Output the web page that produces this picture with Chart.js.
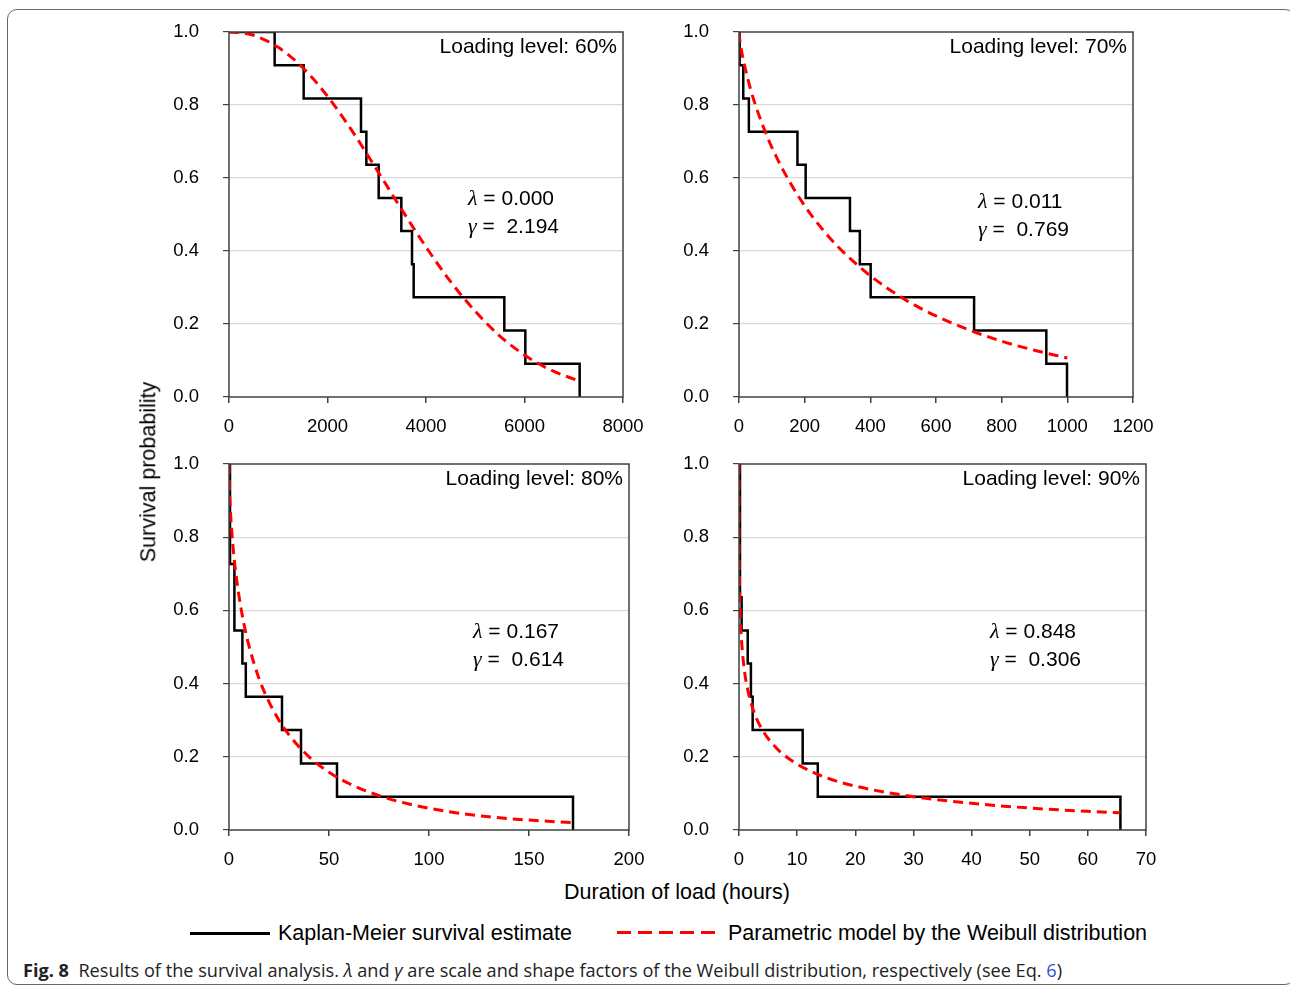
<!DOCTYPE html>
<html>
<head>
<meta charset="utf-8">
<script src="https://cdn.jsdelivr.net/npm/chart.js@4.4.1/dist/chart.umd.min.js"></script>
<style>
  body { margin: 0; background: #fff; width: 1290px; height: 985px; overflow: hidden; position: relative;
         font-family: "Liberation Sans", Arial, sans-serif; color: #000; }
  canvas { position: absolute; }
  .frame { position: absolute; left: 7px; top: 9px; width: 1286px; height: 974px;
           border: 1.5px solid #666; border-radius: 10px; }
  .lbl { position: absolute; font-size: 21.5px; white-space: nowrap; line-height: 1; }
  .caption { position: absolute; left: 23px; top: 958px; font-family: "Open Sans", "Noto Sans", sans-serif;
             font-size: 18px; white-space: nowrap; transform-origin: 0 0; color: #222; }
</style>
</head>
<body>
<div class="frame"></div>

<canvas id="p60"></canvas>
<canvas id="p70"></canvas>
<canvas id="p80"></canvas>
<canvas id="p90"></canvas>

<div class="lbl" style="left:149px; top:472px; transform: translate(-50%,-50%) rotate(-90deg);">Survival probability</div>
<div class="lbl" style="left:677px; top:893px; transform: translate(-50%,-50%);">Duration of load (hours)</div>

<div style="position:absolute; left:190px; top:932px; width:80px; height:2.5px; background:#000;"></div>
<div class="lbl" style="left:278px; top:934px; transform: translateY(-50%);">Kaplan-Meier survival estimate</div>
<div style="position:absolute; left:617px; top:931px; width:104px; height:3px;
            background: repeating-linear-gradient(to right, #ff0000 0 14px, transparent 14px 21px);"></div>
<div class="lbl" style="left:728px; top:934px; transform: translateY(-50%);">Parametric model by the Weibull distribution</div>

<div class="caption" id="caption"><b>Fig. 8</b>&nbsp; Results of the survival analysis. <i>λ</i> and <i>γ</i> are scale and shape factors of the Weibull distribution, respectively (see Eq. <span style="color:#2e4fd6">6</span>)</div>

<script>
// Kaplan-Meier steps: [time, survival after the event]
var km60 = [[0, 1.0], [927, 0.909], [1516, 0.818], [2680, 0.727], [2789, 0.636], [3039, 0.545],
            [3499, 0.455], [3716, 0.364], [3750, 0.273], [5590, 0.182], [6017, 0.091], [7120, 0.0]];
var km70 = [[0, 1.0], [2, 0.909], [13, 0.818], [30, 0.727], [178, 0.636], [203, 0.545],
            [338, 0.455], [368, 0.364], [401, 0.273], [716, 0.182], [936, 0.091], [999, 0.0]];
var km80 = [[0, 1.0], [0.5, 0.727], [2.7, 0.545], [6.7, 0.455], [8.4, 0.364],
            [26.5, 0.273], [36, 0.182], [54, 0.091], [172, 0.0]];
var km90 = [[0, 1.0], [0.17, 0.636], [0.45, 0.545], [1.5, 0.455], [2.05, 0.364],
            [2.35, 0.273], [10.95, 0.182], [13.55, 0.091], [65.6, 0.0]];

// Weibull curves: [time, survival]
var wb60 = [[0, 1.0], [250, 0.998], [500, 0.991], [1000, 0.958], [1500, 0.902], [2000, 0.824],
            [2500, 0.729], [3000, 0.623], [3500, 0.515], [4000, 0.411], [4500, 0.316], [5000, 0.235],
            [5500, 0.167], [6000, 0.115], [6500, 0.076], [7120, 0.043]];
var wb70 = [[0, 1.0], [1, 0.989], [5, 0.963], [10, 0.937], [20, 0.896], [35, 0.844], [50, 0.80],
            [75, 0.738], [100, 0.684], [150, 0.596], [200, 0.524], [250, 0.464], [300, 0.413],
            [350, 0.370], [400, 0.332], [500, 0.270], [600, 0.222], [700, 0.184], [800, 0.153],
            [900, 0.128], [1000, 0.107]];
var wb80 = [[0, 1.0], [0.1, 0.960], [0.5, 0.897], [1, 0.846], [2, 0.774], [3, 0.720], [5, 0.639],
            [7.5, 0.562], [10, 0.503], [15, 0.414], [20, 0.350], [25, 0.300], [30, 0.260], [40, 0.200],
            [50, 0.158], [60, 0.127], [75, 0.094], [90, 0.071], [110, 0.050], [130, 0.036],
            [150, 0.027], [172, 0.020]];
var wb90 = [[0, 1.0], [0.001, 0.903], [0.01, 0.813], [0.05, 0.712], [0.1, 0.658], [0.25, 0.574],
            [0.5, 0.504], [1, 0.428], [1.5, 0.383], [2, 0.351], [3, 0.305], [4, 0.274], [5, 0.250],
            [7, 0.215], [10, 0.180], [15, 0.143], [20, 0.120], [30, 0.091], [40, 0.073], [50, 0.060],
            [60, 0.051], [65.6, 0.047]];

// tick labels
var xTicks60 = [0, 2000, 4000, 6000, 8000];
var xTicks70 = [0, 200, 400, 600, 800, 1000, 1200];
var xTicks80 = [0, 50, 100, 150, 200];
var xTicks90 = [0, 10, 20, 30, 40, 50, 60, 70];
var yTicks = [0, 0.2, 0.4, 0.6, 0.8, 1.0];

// panel texts
var levels = ["Loading level: 60%", "Loading level: 70%", "Loading level: 80%", "Loading level: 90%"];
var lambdas = ["0.000", "0.011", "0.167", "0.848"];
var gammas = ["2.194", "0.769", "0.614", "0.306"];

var FONT = "'Liberation Sans', Arial, sans-serif";
var AXIS = "#404040";
var PAD_TOP = 40, X_H = 50, Y_W = 80;

function toXY(arr) {
    return arr.map(function(p) { return { x: p[0], y: p[1] }; });
}

// border of the plot area and the texts inside it
var panelPlugin = {
    id: "panelText",
    afterDatasetsDraw: function(chart) {
        var a = chart.chartArea, ctx = chart.ctx, o = chart.options.plugins.panelText;
        ctx.save();
        ctx.strokeStyle = AXIS;
        ctx.lineWidth = 1.5;
        ctx.strokeRect(a.left, a.top, a.right - a.left, a.bottom - a.top);

        ctx.fillStyle = "#000";
        ctx.font = "21px " + FONT;
        ctx.textAlign = "right";
        ctx.textBaseline = "alphabetic";
        ctx.fillText(o.level, a.right - 6, a.top + 21);

        ctx.textAlign = "left";
        var x = a.left + o.tx, y = a.top + o.ty;
        ctx.font = "italic 22px 'Liberation Serif', serif";
        ctx.fillText("λ", x, y);
        var w1 = ctx.measureText("λ").width;
        ctx.fillText("γ", x, y + 28);
        var w2 = ctx.measureText("γ").width;
        ctx.font = "21px " + FONT;
        ctx.fillText(" = " + o.lam, x + w1, y);
        ctx.fillText(" =  " + o.gam, x + w2, y + 28);
        ctx.restore();
    }
};

function makePanel(id, area, km, wb, xMax, xTicks, idx, tx, ty) {
    var cv = document.getElementById(id);
    var w = area.r - area.l, h = area.b - area.t;
    cv.width = w + Y_W + 40;
    cv.height = h + PAD_TOP + X_H;
    cv.style.left = (area.l - Y_W) + "px";
    cv.style.top = (area.t - PAD_TOP) + "px";

    new Chart(cv, {
        type: "line",
        data: {
            datasets: [{
                label: "Parametric model by the Weibull distribution",
                data: toXY(wb),
                borderColor: "#ff0000",
                borderWidth: 3,
                borderDash: [10, 6],
                pointRadius: 0,
                cubicInterpolationMode: "monotone",
                fill: false
            }, {
                label: "Kaplan-Meier survival estimate",
                data: toXY(km),
                borderColor: "#000",
                borderWidth: 2.5,
                stepped: true,
                pointRadius: 0,
                fill: false
            }]
        },
        options: {
            responsive: false,
            animation: false,
            events: [],
            layout: { padding: { top: PAD_TOP, right: 40, left: 0, bottom: 0 } },
            plugins: {
                legend: { display: false },
                tooltip: { enabled: false },
                panelText: { level: levels[idx], lam: lambdas[idx], gam: gammas[idx], tx: tx, ty: ty }
            },
            scales: {
                x: {
                    type: "linear",
                    min: 0,
                    max: xMax,
                    afterBuildTicks: function(s) { s.ticks = xTicks.map(function(v) { return { value: v }; }); },
                    afterFit: function(s) { s.height = X_H; },
                    grid: { drawOnChartArea: false, tickLength: 6, tickColor: AXIS, lineWidth: 1.5 },
                    border: { display: false },
                    ticks: { color: "#000", font: { family: FONT, size: 18.5 }, padding: 13, maxRotation: 0,
                             callback: function(v) { return String(v); } }
                },
                y: {
                    type: "linear",
                    min: 0,
                    max: 1,
                    afterBuildTicks: function(s) { s.ticks = yTicks.map(function(v) { return { value: v }; }); },
                    afterFit: function(s) { s.width = Y_W; },
                    grid: {
                        color: function(c) { return (c.tick && (c.tick.value === 0 || c.tick.value === 1)) ? "rgba(0,0,0,0)" : "#d9d9d9"; },
                        tickColor: AXIS, tickLength: 6, lineWidth: 1.2
                    },
                    border: { display: false },
                    ticks: { color: "#000", font: { family: FONT, size: 18.5 }, padding: 24,
                             callback: function(v) { return v.toFixed(1); } }
                }
            }
        },
        plugins: [panelPlugin]
    });
}

makePanel("p60", { l: 229, t: 32, r: 623, b: 397 }, km60, wb60, 8000, xTicks60, 0, 239, 173);
makePanel("p70", { l: 739, t: 32, r: 1133, b: 397 }, km70, wb70, 1200, xTicks70, 1, 239, 176);
makePanel("p80", { l: 229, t: 464, r: 629, b: 830 }, km80, wb80, 200, xTicks80, 2, 244, 174);
makePanel("p90", { l: 739, t: 464, r: 1146, b: 830 }, km90, wb90, 70, xTicks90, 3, 251, 174);

// squeeze the caption to the width it has in the figure
var cap = document.getElementById("caption");
cap.style.transform = "scaleX(" + (1039 / cap.getBoundingClientRect().width) + ")";
</script>
</body>
</html>
